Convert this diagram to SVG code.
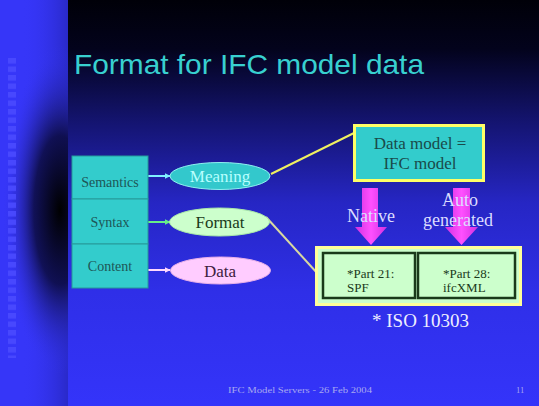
<svg xmlns="http://www.w3.org/2000/svg" width="539" height="406" viewBox="0 0 539 406">
<defs>
<linearGradient id="bgMain" x1="0" y1="0" x2="0" y2="1">
<stop offset="0" stop-color="#000008"/>
<stop offset="0.12" stop-color="#03031c"/>
<stop offset="0.3" stop-color="#141470"/>
<stop offset="0.5" stop-color="#2626c4"/>
<stop offset="0.72" stop-color="#2f2fe8"/>
<stop offset="1" stop-color="#3434fa"/>
</linearGradient>
<radialGradient id="blob" cx="60" cy="210" r="1" gradientUnits="userSpaceOnUse" gradientTransform="translate(60 210) scale(58 165) translate(-60 -210)">
<stop offset="0" stop-color="#000000" stop-opacity="1"/>
<stop offset="0.45" stop-color="#080830" stop-opacity="0.8"/>
<stop offset="1" stop-color="#3838ff" stop-opacity="0"/>
</radialGradient>
<linearGradient id="panelX" x1="0" y1="0" x2="1" y2="0">
<stop offset="0" stop-color="#3838ff" stop-opacity="0"/>
<stop offset="1" stop-color="#1a1a90" stop-opacity="0.45"/>
</linearGradient>
<linearGradient id="mag" x1="0" y1="0" x2="1" y2="0">
<stop offset="0" stop-color="#d030e0"/>
<stop offset="0.5" stop-color="#ff50ff"/>
<stop offset="1" stop-color="#d030e0"/>
</linearGradient>
<marker id="ahCyan" viewBox="0 0 10 10" refX="9" refY="5" markerWidth="6" markerHeight="6" orient="auto" markerUnits="userSpaceOnUse"><path d="M0,0 L10,5 L0,10 z" fill="#7ff0ff"/></marker>
<marker id="ahGreen" viewBox="0 0 10 10" refX="9" refY="5" markerWidth="6" markerHeight="6" orient="auto" markerUnits="userSpaceOnUse"><path d="M0,0 L10,5 L0,10 z" fill="#66ee88"/></marker>
<marker id="ahPink" viewBox="0 0 10 10" refX="9" refY="5" markerWidth="6" markerHeight="6" orient="auto" markerUnits="userSpaceOnUse"><path d="M0,0 L10,5 L0,10 z" fill="#ffd8ff"/></marker>
<pattern id="sq" x="8" y="58" width="10" height="8.5" patternUnits="userSpaceOnUse"><rect x="0" y="0" width="8" height="5.5" fill="#4a4aff"/></pattern>
</defs>
<style>
.serif{font-family:"Liberation Serif","Times New Roman",serif}
.cell{fill:#33cccc;stroke:#279a9a;stroke-width:1}
.celltxt{font-size:14px;fill:#1e5656;text-anchor:middle}
.elltxt{font-size:17px;text-anchor:middle}
.mag{fill:url(#mag)}
.lbl{font-size:18px;fill:#dcdcff;text-anchor:middle}
.part{font-size:13px;fill:#1a3a1a}
</style>
<!-- background -->
<rect x="0" y="0" width="539" height="406" fill="url(#bgMain)"/>
<rect x="0" y="0" width="68" height="406" fill="#3636f8"/>
<rect x="20" y="0" width="48" height="406" fill="url(#panelX)"/>
<rect x="0" y="40" width="68" height="350" fill="url(#blob)"/>
<rect x="8" y="58" width="10" height="300" fill="url(#sq)" opacity="0.9"/>

<text x="74" y="74" textLength="350" lengthAdjust="spacingAndGlyphs" font-family="'Liberation Sans',Arial,sans-serif" font-size="28" fill="#38d0d0">Format for IFC model data</text>

<!-- connectors -->
<g id="connectors" fill="none">
<line x1="148" y1="176" x2="170" y2="176" stroke="#7ff0ff" stroke-width="2" marker-end="url(#ahCyan)"/>
<line x1="148" y1="222" x2="170" y2="222" stroke="#66ee88" stroke-width="2" marker-end="url(#ahGreen)"/>
<line x1="148" y1="270" x2="170" y2="270" stroke="#ffd8ff" stroke-width="2" marker-end="url(#ahPink)"/>
<line x1="271" y1="174" x2="354" y2="133" stroke="#f0f060" stroke-width="2"/>
<line x1="266" y1="217" x2="318" y2="274" stroke="#d8d8a0" stroke-width="2"/>
</g>

<g id="table">
<rect class="cell" x="72" y="156" width="76" height="43"/>
<rect class="cell" x="72" y="199" width="76" height="45"/>
<rect class="cell" x="72" y="244" width="76" height="44"/>
<text class="serif celltxt" x="110" y="187">Semantics</text>
<text class="serif celltxt" x="110" y="227">Syntax</text>
<text class="serif celltxt" x="110" y="271">Content</text>
</g>

<g id="meaning">
<ellipse cx="220" cy="176" rx="50" ry="13.5" fill="#33c8cc" stroke="#8ff0f0" stroke-width="1"/>
<text class="serif elltxt" x="220" y="182" fill="#b8ffff">Meaning</text>
</g>
<g id="format">
<ellipse cx="219.5" cy="222" rx="50" ry="14" fill="#ccffcc" stroke="#a8e8a8" stroke-width="1"/>
<text class="serif elltxt" x="220" y="228" fill="#1a3a1a">Format</text>
</g>
<g id="data">
<ellipse cx="220.5" cy="270.5" rx="50" ry="13.5" fill="#ffccff" stroke="#e8b0e8" stroke-width="1"/>
<text class="serif elltxt" x="220" y="276.5" fill="#402040">Data</text>
</g>

<g id="datamodel">
<rect x="354.5" y="125.5" width="129" height="55" fill="#33cccc" stroke="#ffff66" stroke-width="3"/>
<text class="serif" x="420" y="149" font-size="17" fill="#1a4a4a" text-anchor="middle">Data model =</text>
<text class="serif" x="420" y="169" font-size="17" fill="#1a4a4a" text-anchor="middle">IFC model</text>
</g>

<g id="native">
<path class="mag" d="M362,188 H378 V227 H387 L371,245 L355,227 H362 Z"/>
<text class="serif lbl" x="371" y="222">Native</text>
</g>
<g id="autogen">
<path class="mag" d="M453,188 H470 V227 H478 L461.5,245 L445,227 H453 Z"/>
<text class="serif lbl" x="460" y="206">Auto</text>
<text class="serif lbl" x="458" y="226">generated</text>
</g>

<g id="formats">
<rect x="316.5" y="247.5" width="204" height="57" fill="#ccffcc" stroke="#ffff99" stroke-width="3"/>
<rect x="323" y="253" width="92" height="45" fill="#ccffcc" stroke="#1a3a1a" stroke-width="2.5"/>
<rect x="418" y="253" width="97" height="45" fill="#ccffcc" stroke="#1a3a1a" stroke-width="2.5"/>
<text class="serif part" x="347" y="278">*Part 21:</text>
<text class="serif part" x="347" y="292">SPF</text>
<text class="serif part" x="443" y="278">*Part 28:</text>
<text class="serif part" x="443" y="292">ifcXML</text>
</g>

<text class="serif" x="372" y="327" font-size="19" fill="#eeeeff">* ISO 10303</text>
<text class="serif" x="228" y="393" font-size="8.5" fill="#a8a8f0" textLength="144" lengthAdjust="spacingAndGlyphs">IFC Model Servers - 26 Feb 2004</text>
<text class="serif" x="516" y="393" font-size="8.5" fill="#a8a8f0">11</text>
</svg>
